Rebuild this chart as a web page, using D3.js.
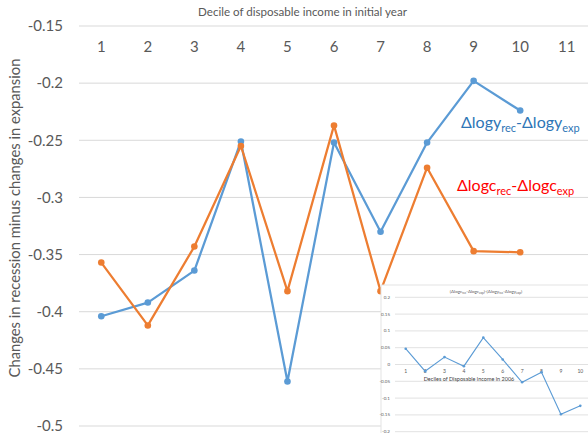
<!DOCTYPE html>
<html>
<head>
<meta charset="utf-8">
<script src="https://cdn.jsdelivr.net/npm/d3@7"></script>
<style>
  html, body { margin: 0; padding: 0; background: #fff; }
  svg { display: block; font-family: Lato, "Open Sans", sans-serif; }
</style>
</head>
<body>
<svg id="chart" width="588" height="433"></svg>
<script>
// Deciles of disposable income (top category axis runs to 11)
const deciles = [1, 2, 3, 4, 5, 6, 7, 8, 9, 10];
const axisCategories = [1, 2, 3, 4, 5, 6, 7, 8, 9, 10, 11];

// Δlogy(rec) - Δlogy(exp): income change, recession minus expansion
const incomeDiff = [-0.404, -0.392, -0.364, -0.251, -0.461, -0.252, -0.330, -0.252, -0.198, -0.224];
// Δlogc(rec) - Δlogc(exp): consumption change, recession minus expansion
const consDiff = [-0.357, -0.412, -0.343, -0.255, -0.382, -0.237, -0.382, -0.274, -0.347, -0.348];

const yTicks = [-0.15, -0.2, -0.25, -0.3, -0.35, -0.4, -0.45, -0.5];

// Small panel: (Δlogc_rec-Δlogc_exp)-(Δlogy_rec-Δlogy_exp) by decile of 2006 income
const insetValues = [0.047, -0.020, 0.022, -0.005, 0.080, 0.015, -0.053, -0.023, -0.148, -0.123];
const insetTicks = [0.2, 0.15, 0.1, 0.05, 0, -0.05, -0.1, -0.15, -0.2];

const blue = "#5B9BD5", orange = "#ED7D31", grid = "#D9D9D9", textGrey = "#595959";
const fmt = d => String(d);   // plain hyphen-minus, as in spreadsheet output

const svg = d3.select("#chart");

// shrink or grow a text element's font so that it spans the given width
function fitWidth(sel, width) {
  const node = sel.node();
  const fs = parseFloat(sel.attr("font-size"));
  const w = node.getComputedTextLength();
  if (w > 0) sel.attr("font-size", (fs * width / w).toFixed(2));
  return sel;
}

// ---- main chart ----
const x = d3.scaleBand().domain(axisCategories).range([78, 590]);
const y = d3.scaleLinear().domain([-0.15, -0.5]).range([26, 426]);
const cx = d => x(d) + x.bandwidth() / 2;

// horizontal gridlines
svg.append("g").selectAll("line").data(yTicks).join("line")
  .attr("x1", 79).attr("x2", 588)
  .attr("y1", d => y(d)).attr("y2", d => y(d))
  .attr("stroke", grid).attr("stroke-width", 1);

// y tick labels
svg.append("g").selectAll("text").data(yTicks).join("text")
  .attr("x", 63).attr("y", d => y(d)).attr("dy", "0.35em")
  .attr("text-anchor", "end").attr("fill", textGrey).attr("font-size", 15)
  .text(fmt);

// category labels along the top
svg.append("g").selectAll("text").data(axisCategories).join("text")
  .attr("x", d => cx(d)).attr("y", 47).attr("dy", "0.35em")
  .attr("text-anchor", "middle").attr("fill", textGrey).attr("font-size", 15)
  .text(d => d);

// axis titles
fitWidth(svg.append("text")
  .attr("x", 302.5).attr("y", 12).attr("dy", "0.35em")
  .attr("text-anchor", "middle").attr("fill", textGrey).attr("font-size", 11.5)
  .text("Decile of disposable income in initial year"), 209);

fitWidth(svg.append("text")
  .attr("transform", "translate(15,218) rotate(-90)")
  .attr("dy", "0.35em")
  .attr("text-anchor", "middle").attr("fill", textGrey).attr("font-size", 14)
  .text("Changes in recession minus changes in expansion"), 319);

// series lines with markers
const line = d3.line().x((d, i) => cx(deciles[i])).y(d => y(d));
function drawSeries(values, color) {
  const g = svg.append("g");
  g.append("path").datum(values)
    .attr("d", line).attr("fill", "none")
    .attr("stroke", color).attr("stroke-width", 2.25)
    .attr("stroke-linejoin", "round");
  g.selectAll("circle").data(values).join("circle")
    .attr("cx", (d, i) => cx(deciles[i])).attr("cy", d => y(d))
    .attr("r", 3.3).attr("fill", color);
}
drawSeries(incomeDiff, blue);
drawSeries(consDiff, orange);

// series labels with subscripts
function seriesLabel(xPos, yPos, color, v) {
  const t = svg.append("text").attr("x", xPos).attr("y", yPos)
    .attr("fill", color).attr("font-size", 16);
  t.append("tspan").text("Δlog" + v);
  t.append("tspan").attr("font-size", 11).attr("dy", 4).text("rec");
  t.append("tspan").attr("dy", -4).text("-Δlog" + v);
  t.append("tspan").attr("font-size", 11).attr("dy", 4).text("exp");
}
seriesLabel(461, 128, "#2E75B6", "y");
seriesLabel(457, 191, "#FF0000", "c");

// ---- inset panel ----
const inset = svg.append("g");
inset.append("rect")
  .attr("x", 381).attr("y", 285).attr("width", 210).attr("height", 152)
  .attr("fill", "#fff").attr("stroke", "#E4E4E4").attr("stroke-width", 1);

const ix = d3.scaleBand().domain(deciles).range([396, 590]);
const iy = d3.scaleLinear().domain([0.2, -0.2]).range([297.3, 431.7]);
const icx = d => ix(d) + ix.bandwidth() / 2;

inset.append("g").selectAll("line").data(insetTicks).join("line")
  .attr("x1", 395).attr("x2", 588)
  .attr("y1", d => iy(d)).attr("y2", d => iy(d))
  .attr("stroke", grid).attr("stroke-width", 0.8);

inset.append("g").selectAll("text").data(insetTicks).join("text")
  .attr("x", 390).attr("y", d => iy(d)).attr("dy", "0.35em")
  .attr("text-anchor", "end").attr("fill", textGrey).attr("font-size", 4.5)
  .text(fmt);

inset.append("g").selectAll("text").data(deciles).join("text")
  .attr("x", d => icx(d)).attr("y", 371).attr("dy", "0.35em")
  .attr("text-anchor", "middle").attr("fill", textGrey).attr("font-size", 5)
  .text(d => d);

inset.append("text")
  .attr("x", 469).attr("y", 379).attr("dy", "0.35em")
  .attr("text-anchor", "middle").attr("fill", "#404040").attr("font-size", 5.5)
  .text("Deciles of Disposable income in 2006");

const it = inset.append("text")
  .attr("x", 486).attr("y", 293)
  .attr("text-anchor", "middle").attr("fill", textGrey).attr("font-size", 4.5);
it.append("tspan").text("(Δlogc");
it.append("tspan").attr("font-size", 3).attr("dy", 1).text("rec");
it.append("tspan").attr("dy", -1).text("-Δlogc");
it.append("tspan").attr("font-size", 3).attr("dy", 1).text("exp");
it.append("tspan").attr("dy", -1).text(")-(Δlogy");
it.append("tspan").attr("font-size", 3).attr("dy", 1).text("rec");
it.append("tspan").attr("dy", -1).text("-Δlogy");
it.append("tspan").attr("font-size", 3).attr("dy", 1).text("exp");
it.append("tspan").attr("dy", -1).text(")");

const iline = d3.line().x((d, i) => icx(deciles[i])).y(d => iy(d));
inset.append("path").datum(insetValues)
  .attr("d", iline).attr("fill", "none")
  .attr("stroke", blue).attr("stroke-width", 1.1);
inset.selectAll("circle").data(insetValues).join("circle")
  .attr("cx", (d, i) => icx(deciles[i])).attr("cy", d => iy(d))
  .attr("r", 1.3).attr("fill", blue);
</script>
</body>
</html>
